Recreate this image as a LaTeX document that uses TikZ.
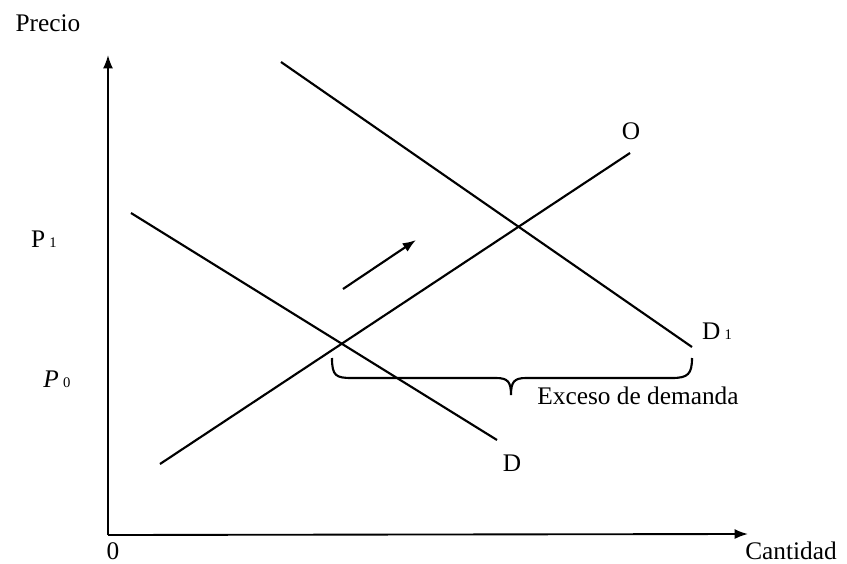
\documentclass[tikz,border=0pt]{standalone}
\usepackage{fontspec}
\setmainfont{Liberation Serif}
\usetikzlibrary{arrows.meta}
\begin{document}
\begin{tikzpicture}[x=0.75pt,y=-0.75pt,
  curve/.style={line width=1.6pt},
  axis/.style={line width=1.4pt,-{Latex[length=10pt,width=7.5pt]}},
  lbl/.style={inner sep=0pt,font=\fontsize{19}{22}\selectfont},
  sub/.style={font=\fontsize{11}{12}\selectfont}]
\useasboundingbox (0,0) rectangle (847,564);
% axes
\coordinate (orig) at (108,535);
\coordinate (ytop) at (108,55);
\coordinate (xend) at (748,534);
\draw[axis] (orig) -- (ytop);
\draw[axis] (orig) -- (xend);
% curves
\coordinate (d0) at (131,213);
\coordinate (d1) at (497,440);
\coordinate (o0) at (160,464);
\coordinate (o1) at (630,153);
\coordinate (e0) at (281,62);
\coordinate (e1) at (692,347);
\draw[curve] (d0) -- (d1);
\draw[curve] (o0) -- (o1);
\draw[curve] (e0) -- (e1);
% shift arrow
\coordinate (a0) at (343,289);
\coordinate (a1) at (416,240);
\draw[line width=1.6pt,-{Latex[length=10pt,width=7.5pt]}] (a0) -- (a1);
% brace
\coordinate (bl) at (332,358);
\coordinate (br) at (692,358);
\coordinate (bm) at (511,395);
\draw[line width=1.6pt] (bl) .. controls (332,376) and (336,378) .. (352,378) -- (496,378)
  .. controls (508,378) and (511,382) .. (bm)
  .. controls (511,382) and (514,378) .. (526,378) -- (672,378)
  .. controls (688,378) and (692,374) .. (br);
% labels
\node[lbl] (precio) at (48,23) {Precio};
\node[lbl] (zero) at (113,551) {0};
\node[lbl] (cant) at (791,551) {Cantidad};
\node[lbl] (p1) at (44,239) {P\,{\fontsize{11}{12}\selectfont 1}};
\node[lbl] (p0) at (57,379) {\textit{P}\,{\fontsize{11}{12}\selectfont 0}};
\node[lbl] (O) at (631,131) {O};
\node[lbl] (D) at (512,463) {D};
\node[lbl] (D1) at (717,331) {D\,{\fontsize{11}{12}\selectfont 1}};
\node[lbl] (exc) at (638,396) {Exceso de demanda};
\end{tikzpicture}
\end{document}
